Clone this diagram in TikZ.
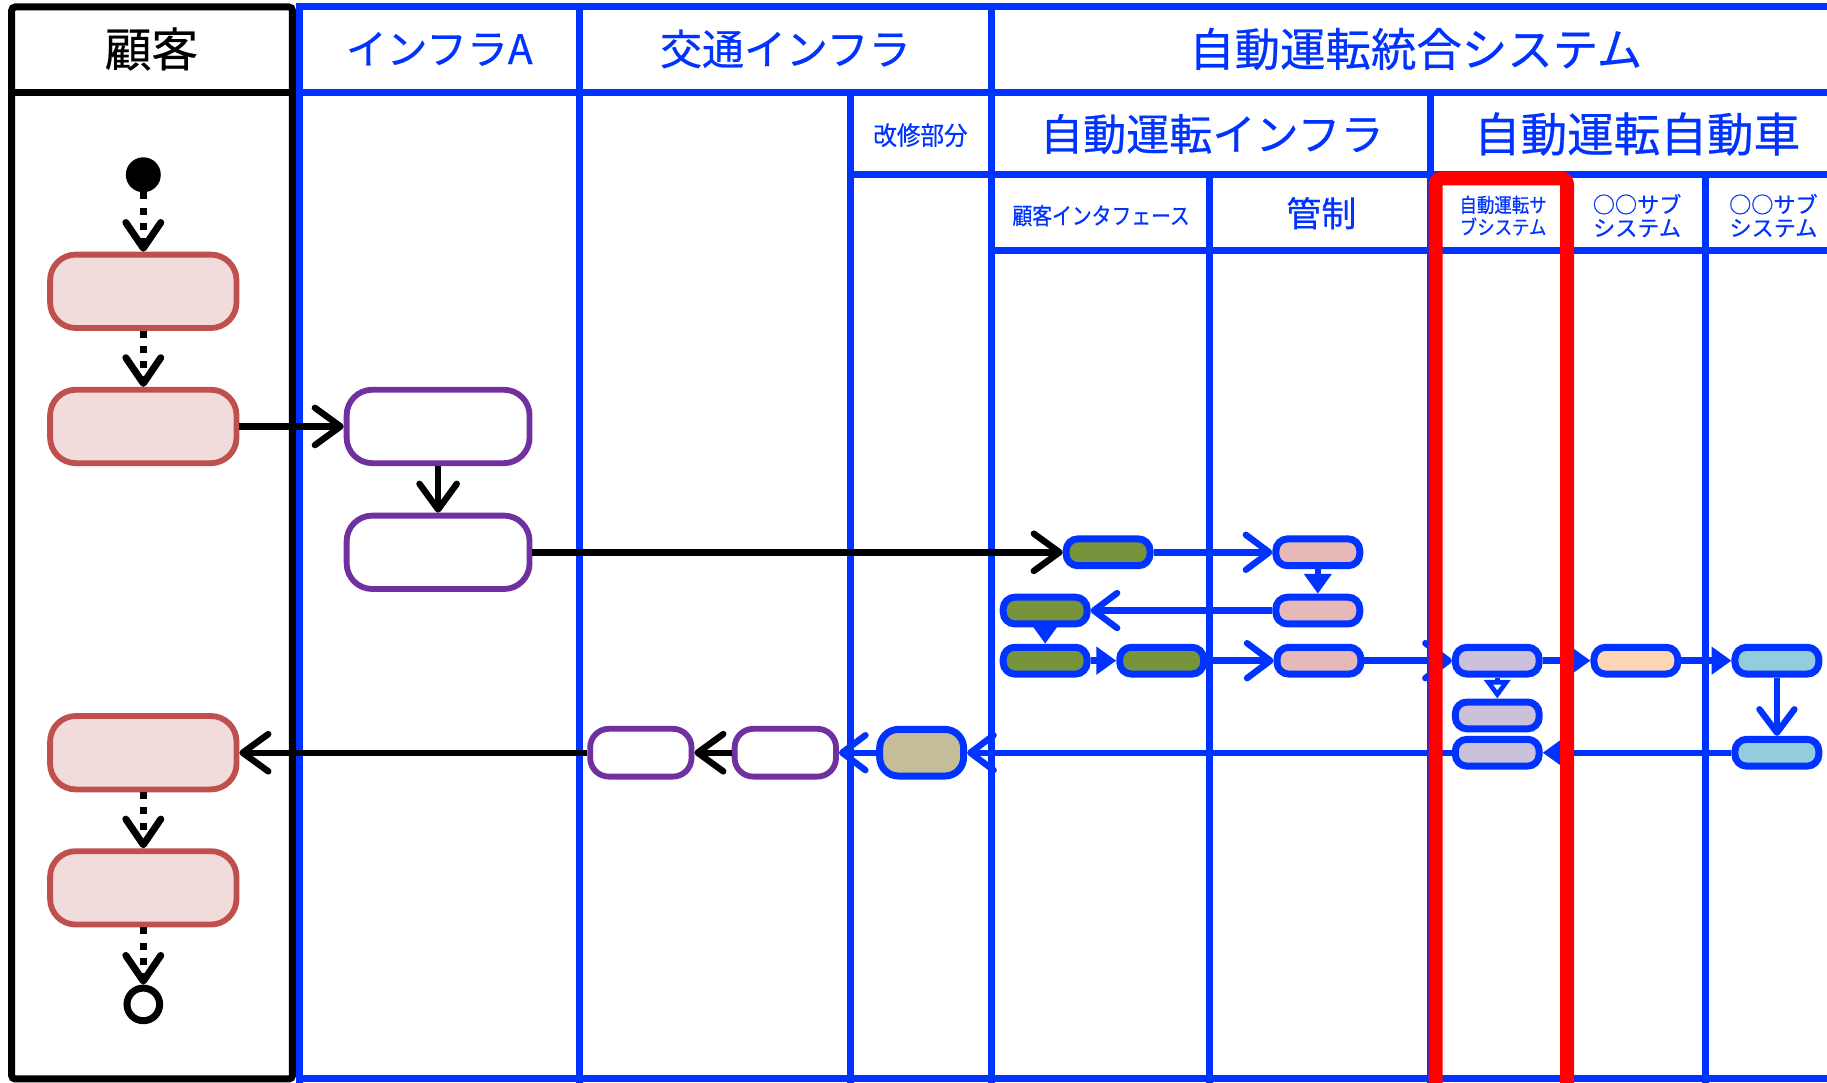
\documentclass[tikz,border=0pt]{standalone}
\usepackage{fontspec}
\newfontfamily\jp[FakeBold=0.5]{Noto Sans CJK JP}
\usetikzlibrary{arrows.meta}
\definecolor{lb}{RGB}{0,51,255}
\definecolor{rbord}{RGB}{192,80,77}
\definecolor{rfill}{RGB}{242,220,219}
\definecolor{purp}{RGB}{112,48,160}
\definecolor{olivef}{RGB}{119,147,60}
\definecolor{pinkf}{RGB}{230,185,184}
\definecolor{lavf}{RGB}{204,193,218}
\definecolor{peachf}{RGB}{252,213,181}
\definecolor{cyanf}{RGB}{147,205,221}
\definecolor{tanf}{RGB}{196,189,151}
\definecolor{redl}{RGB}{255,0,0}
\begin{document}
\begin{tikzpicture}[x=1pt,y=-1pt,
  gridline/.style={lb, line width=6pt},
  custbox/.style={draw=rbord, fill=rfill, line width=5pt, rounded corners=22pt, minimum width=160pt, minimum height=63pt, inner sep=0pt},
  infbox/.style={draw=purp, fill=white, line width=5pt, rounded corners=22pt, minimum width=157pt, minimum height=63pt, inner sep=0pt},
  trbox/.style={draw=purp, fill=white, line width=5pt, rounded corners=16pt, minimum width=87pt, minimum height=41pt, inner sep=0pt},
  tanbox/.style={draw=lb, fill=tanf, line width=6pt, rounded corners=16pt, minimum width=72pt, minimum height=40pt, inner sep=0pt},
  sbox/.style={draw=lb, line width=6pt, rounded corners=10pt, minimum width=72pt, minimum height=23pt, inner sep=0pt},
  karr/.style={black, line width=5.5pt, -{Straight Barb[length=22pt,width=32pt,round]}},
  barr/.style={lb, line width=5.5pt, -{Straight Barb[length=20pt,width=30pt,round]}},
  btri/.style={lb, line width=5.5pt, -{Triangle[length=17pt,width=23pt]}},
  bopen/.style={lb, line width=4pt, -{Triangle[open,length=16pt,width=22pt]}},
  darr/.style={black, line width=6pt, dash pattern=on 6pt off 7pt, -{Straight Barb[length=22pt,width=30pt,round]}},
  hdr/.style={text=lb, inner sep=0pt, font=\jp\fontsize{#1}{#1}\selectfont},
  hdr/.default=38
]
\clip (0,0) rectangle (1568,929);
\fill[white] (0,0) rectangle (1568,929);

% blue lane grid
\draw[gridline] (254,6) -- (1575,6);
\draw[gridline] (254,79) -- (1575,79);
\draw[gridline] (727,150) -- (1575,150);
\draw[gridline] (848,215) -- (1575,215);
\draw[gridline] (254,926) -- (1575,926);
\draw[gridline] (257,3) -- (257,935);
\draw[gridline] (497,3) -- (497,935);
\draw[gridline] (851,3) -- (851,935);
\draw[gridline] (730,76) -- (730,935);
\draw[gridline] (1038,147) -- (1038,935);
\draw[gridline] (1228,76) -- (1228,935);
\draw[gridline] (1464,147) -- (1464,935);

% black customer lane
\draw[black, line width=6pt, rounded corners=3pt] (10,6) rectangle (251,926);
\draw[black, line width=6pt] (10,79) -- (251,79);

% headers
\node[hdr=40, text=black] (hcust) at (130,42) {顧客};
\node[hdr=35] (hinfa) at (377,42) {インフラA};
\node[hdr=36] (htraf) at (674,42) {交通インフラ};
\node[hdr=39] (hsys) at (1215,42) {自動運転統合システム};
\node[hdr=22] (hmod) at (790,116) {\scalebox{0.92}[1]{改修部分}};
\node[hdr=37] (hainf) at (1040,115) {自動運転インフラ};
\node[hdr=40] (hcar) at (1405,115) {自動運転自動車};
\node[hdr=20] (hcif) at (945,185) {\scalebox{0.85}[1]{顧客インタフェース}};
\node[hdr=30] (hctl) at (1134,183) {管制};
\node[hdr=17, align=center] (hads) at (1290,185) {\scalebox{0.88}[1]{自動運転サ}\\[2pt]\scalebox{0.88}[1]{ブシステム}};
\node[hdr=19, align=center] (hsub1) at (1405,185) {○○サブ\\[1pt]システム};
\node[hdr=19, align=center] (hsub2) at (1522,185) {○○サブ\\[1pt]システム};

% customer lane nodes
\node[circle, fill=black, minimum size=30pt, inner sep=0pt] (st) at (123,150) {};
\node[custbox] (cb1) at (123,250) {};
\node[custbox] (cb2) at (123,366) {};
\node[custbox] (cb3) at (123,646) {};
\node[custbox] (cb4) at (123,762) {};
\node[circle, draw=black, fill=white, line width=6pt, minimum size=28pt, inner sep=0pt] (en) at (123,862) {};

% infra A
\node[infbox] (ia1) at (376,366) {};
\node[infbox] (ia2) at (376,474) {};

% traffic infra
\node[trbox] (t5) at (550,646) {};
\node[trbox] (t4) at (674,646) {};
\node[tanbox] (tan) at (791,646) {};

% autonomous system boxes
\node[sbox, fill=olivef] (g1) at (951,474) {};
\node[sbox, fill=pinkf] (p1) at (1131,474) {};
\node[sbox, fill=pinkf] (p2) at (1131,524) {};
\node[sbox, fill=olivef] (g2) at (897,524) {};
\node[sbox, fill=olivef] (g3) at (897,567) {};
\node[sbox, fill=olivef] (g4) at (997,567) {};
\node[sbox, fill=pinkf] (p3) at (1132,567) {};
\node[sbox, fill=lavf] (l1) at (1285,567) {};
\node[sbox, fill=lavf] (l2) at (1285,614) {};
\node[sbox, fill=lavf] (l3) at (1285,646) {};
\node[sbox, fill=peachf] (o1) at (1404,567) {};
\node[sbox, fill=cyanf] (c1) at (1525,567) {};
\node[sbox, fill=cyanf] (c2) at (1525,646) {};

% connectors
\draw[darr] (st.south) -- (cb1.north);
\draw[darr] (cb1.south) -- (cb2.north);
\draw[darr] (cb3.south) -- (cb4.north);
\draw[darr] (cb4.south) -- (en.north);
\draw[karr] (cb2.east) -- (ia1.west);
\draw[karr] (ia1.south) -- (ia2.north);
\draw[karr] (ia2.east) -- (g1.west);
\draw[barr] (g1.east) -- (p1.west);
\draw[btri] (p1.south) -- (p2.north);
\draw[barr] (p2.west) -- (g2.east);
\draw[btri] (g2.south) -- (g3.north);
\draw[btri] (g3.east) -- (g4.west);
\draw[barr] (g4.east) -- (p3.west);
\draw[barr] (p3.east) -- (l1.west);
\draw[bopen] (l1.south) -- (l2.north);
\draw[btri] (l1.east) -- (o1.west);
\draw[btri] (o1.east) -- (c1.west);
\draw[barr] (c1.south) -- (c2.north);
\draw[btri] (c2.west) -- (l3.east);
\draw[barr] (l3.west) -- (tan.east);
\draw[barr] (tan.west) -- (t4.east);
\draw[karr] (t4.west) -- (t5.east);
\draw[karr] (t5.west) -- (cb3.east);

% red highlight
\draw[redl, line width=12pt, rounded corners=6pt] (1232,945) -- (1232,153) -- (1345,153) -- (1345,945);
\end{tikzpicture}
\end{document}
